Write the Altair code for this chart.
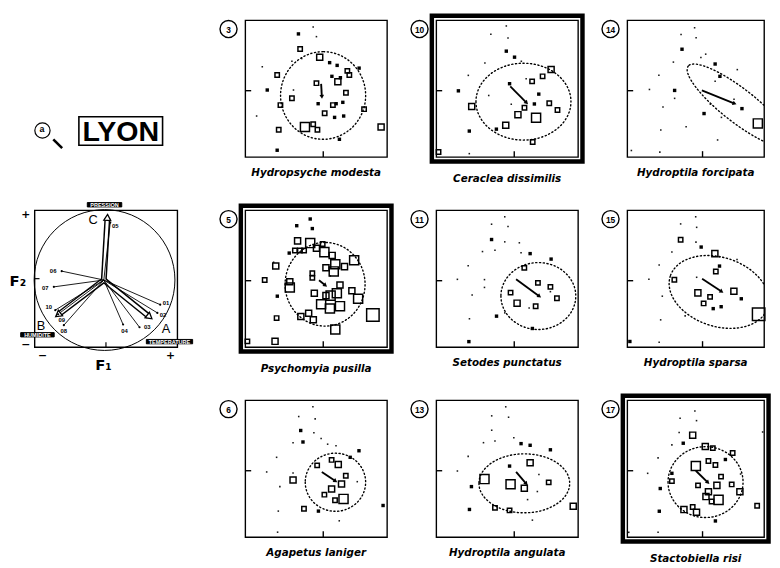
import math
import altair as alt
import pandas as pd

FONT = "Liberation Sans"
TFONT = "DejaVu Sans"
W, W3, H = 144, 139, 139
SQ = {"s": 20, "m": 38, "l": 85, "x": 160}
ORIGIN = (55, 48.5)

# ---------------- species panels: (x%, y%, size class) -----------------
P3_OPEN = [(22.5, 60, "s"), (38.7, 79, "s"), (52.5, 73, "m"), (72, 63, "s"), (73.4, 60, "s"),
           (65.3, 55, "m"), (50.2, 54, "s"), (71, 47, "s"), (32.9, 43, "s"), (24.8, 38, "s"),
           (61.8, 38, "s"), (83.8, 35, "s"), (56, 32, "s"), (42.1, 22, "l"), (47.9, 24, "s"),
           (50.9, 20, "s"), (23.6, 20, "s"), (95.8, 22, "m")]
P3_FILLED = [(37.5, 90), (59.5, 69), (64.8, 67), (80.3, 65), (61.1, 59), (67.1, 58), (15.5, 49),
             (51.4, 39), (64.1, 39), (68.8, 40), (63, 29), (69.4, 30), (66.4, 13), (22.5, 5)]
P3_TINY = [(47.9, 95), (50.2, 88), (39.8, 72), (32.9, 70), (34, 49), (12, 66), (8, 30)]
P3_ARROW = (53.5, 53.5, 54, 44.5)
P3_ELL = (54.9, 45, 30, 30.9, 0)

P10_OPEN = [(25, 37, "m"), (81, 64, "m"), (75, 59, "s"), (67.6, 55.3, "s"), (62.2, 36, "s"),
            (57.6, 31, "m"), (70.4, 28.7, "l"), (49, 23.3, "m"), (79.7, 39.3, "s"),
            (85.5, 34.4, "s"), (68, 11, "s"), (1.6, 3.7, "s")]
P10_FILLED = [(49.4, 77.4), (55.2, 73), (15.6, 48.4), (72.3, 46), (69.2, 38.8), (23.3, 19),
              (42.4, 20.4), (51.7, 53.6)]
P10_TINY = [(38.5, 89.7), (49.4, 95.8), (50.6, 87), (22.6, 59.7), (34.3, 68.8), (63.4, 57.2),
            (52.9, 38.6), (23.3, 2.5), (37, 45), (60, 70)]
P10_ARROW = (52.2, 51.6, 63.4, 40)
P10_ELL = (61.5, 40.5, 33.5, 27.1, 0)

P14_OPEN = [(95.4, 24.6, "l")]
P14_FILLED = [(40, 78.8), (64.2, 68), (83.8, 35.4), (34.6, 48.7), (67.7, 59), (56.1, 31.8)]
P14_TINY = [(49.2, 94.5), (50.3, 87.2), (39.3, 89.6), (53.8, 72.8), (57.3, 75.2), (33.7, 69.4),
            (23.1, 59.8), (16.2, 49.4), (26.1, 36.6), (34.6, 42.9), (43, 22.2), (24.5, 19.8),
            (66, 12.5), (80.4, 63.9), (3, 4.8), (23.8, 3.6), (64.2, 55.4), (68.8, 29),
            (60.7, 38.6), (78, 42.2)]
P14_ARROW = (54.5, 48.7, 78, 39.3)
P14_ELL = (81.4, 37.6, 46.8, 12.2, 38)

P5_OPEN = [(36.9, 77.6, "m"), (35, 70.6, "s"), (38.5, 70.6, "s"), (41.5, 70.6, "s"),
           (45.8, 76, "l"), (54.6, 75.3, "s"), (50.2, 72.2, "m"), (55.8, 69.4, "l"),
           (61.3, 67, "m"), (21.5, 59.3, "m"), (13.7, 49, "s"), (31.4, 47.8, "m"),
           (31.4, 43.5, "l"), (47.3, 54, "s"), (47.3, 50.6, "s"), (56.9, 58, "m"),
           (63.5, 60.5, "l"), (62.4, 55.3, "l"), (70, 58.8, "m"), (76.8, 63.5, "l"),
           (66.8, 45.4, "m"), (64.6, 39.3, "l"), (60.2, 37.6, "l"), (48.7, 39.3, "m"),
           (56.9, 37.6, "m"), (75.2, 41.2, "m"), (79.6, 35.3, "l"), (53.5, 31.3, "l"),
           (59.7, 28.2, "l"), (66.8, 29.9, "l"), (39.2, 22.4, "m"), (44.7, 24.7, "m"),
           (48, 20, "m"), (63.5, 12.9, "l"), (90, 23.5, "x"), (22.1, 21.2, "s"),
           (21, 4.2, "m"), (1.5, 4.2, "s")]
P5_FILLED = [(45.8, 93.6), (36.3, 88.7), (47.3, 86.6), (22.6, 37.2), (31, 68.7)]
P5_TINY = [(20, 62), (60, 52)]
P5_ARROW = (52, 48.9, 56.2, 45.4)
P5_ELL = (56.3, 45.9, 28.2, 29.5, 0)

P11_OPEN = [(62.1, 57.9, "s"), (71.7, 46.9, "s"), (52.4, 39.8, "s"), (57, 32.1, "m"),
            (70.1, 29.8, "s"), (85.1, 35.7, "s"), (80.5, 44, "s")]
P11_FILLED = [(39, 78.6), (66.2, 68.3), (81, 64.3), (42.5, 22.6), (67.8, 13.6), (23, 4)]
P11_TINY = [(48.3, 95.2), (39, 89.8), (50.6, 88.1), (58.6, 76.2), (48.3, 76.9), (32.6, 69.8),
            (41.4, 70.7), (59.8, 69), (22.5, 59.5), (14.9, 49.5), (34, 49.3), (25.3, 38.1),
            (34, 43.6), (23.4, 20.7), (48.3, 25), (65.5, 28.6), (80.5, 40.5)]
P11_ARROW = (56.3, 49.5, 72.4, 37.4)
P11_ELL = (72, 37.3, 26.4, 23.6, 0)

P15_OPEN = [(39, 78.4, "s"), (64, 68.3, "m"), (64.7, 55.2, "s"), (34.4, 49.2, "s"),
            (51.6, 39.6, "m"), (60.5, 36.7, "s"), (55.8, 31.9, "s"), (77.9, 40.8, "m"),
            (96, 24, "x")]
P15_FILLED = [(54, 73.1), (67.4, 59.2), (83.3, 35.3), (68.6, 29.5), (62.8, 28.1), (1.9, 4.1)]
P15_TINY = [(50, 95.2), (39, 90), (50.7, 87.5), (50.2, 76.7), (32.6, 69.5), (23.3, 60),
            (15.8, 49.6), (25.6, 37.2), (24.4, 19.9), (42.3, 22.8), (23.3, 3.6), (80.2, 64),
            (50.7, 51), (67.4, 66)]
P15_ARROW = (54.7, 49.9, 68.6, 40.8)
P15_ELL = (67, 40.3, 37.4, 25.2, 18)

P6_OPEN = [(60.9, 56.4, "s"), (65.6, 53.1, "m"), (50.7, 52.4, "s"), (70.9, 44.8, "s"),
           (67.9, 38.8, "m"), (60.9, 35.2, "m"), (55.8, 31, "s"), (69.3, 27.9, "l"),
           (63.3, 26.9, "s"), (33.7, 41.7, "m"), (41.4, 20.7, "s")]
P6_FILLED = [(39.1, 77.9), (40.7, 69.5), (80.2, 63.1), (74, 58.3), (51.6, 19), (97.2, 23.1)]
P6_TINY = [(47.7, 95.2), (37.7, 88.1), (49.3, 86.4), (48.4, 76.2), (53.5, 72.1), (33.7, 69),
           (58.1, 67.9), (64, 66.7), (22.1, 58.3), (15.1, 47.6), (33.7, 46.9), (24.4, 36.9),
           (23.3, 19), (66.3, 11.9), (22.8, 3.6), (79, 40.5)]
P6_ARROW = (54, 47.6, 63.3, 41.2)
P6_ELL = (63.6, 40.1, 21.3, 20.5, 0)

P13_OPEN = [(66.2, 54.3, "m"), (34, 42.4, "l"), (52.4, 38.6, "l"), (62.1, 35.7, "m"),
            (79.3, 40, "s"), (41.4, 21.4, "s"), (51.7, 19.5, "s"), (96.6, 22.6, "m")]
P13_FILLED = [(59.8, 68.3), (66.2, 67.1), (80.5, 63.8), (51.7, 51.9), (24.8, 36.9), (23.4, 20.2)]
P13_TINY = [(49, 95.2), (39.1, 88.6), (51, 87.6), (54.7, 72.6), (39.1, 78.1), (33.3, 69),
            (41.4, 70.2), (22.5, 59), (14.9, 48.3), (72.4, 45.7), (71.3, 33.3), (64.4, 27.4),
            (67.8, 12.4)]
P13_ARROW = (56.3, 47.6, 63.2, 39.3)
P13_ELL = (62.1, 39.3, 32, 20.8, 0)

P17_OPEN = [(47.8, 74.5, "m"), (57, 66.2, "m"), (62.5, 65, "s"), (77, 61.5, "s"),
            (59.3, 55.6, "s"), (64.4, 52.7, "s"), (50.1, 52, "l"), (68.5, 44.2, "s"),
            (51.7, 37.8, "s"), (65.5, 37.8, "m"), (76.3, 38.5, "s"), (82.3, 33.1, "m"),
            (59.3, 33.1, "m"), (57.5, 29.6, "m"), (66.7, 27.2, "l"), (61.6, 26, "s"),
            (41.4, 20.1, "m"), (47.8, 22, "s"), (50.6, 18.2, "m"), (32.6, 40.9, "s"),
            (94.9, 22.9, "s")]
P17_FILLED = [(40.9, 68.6), (71.7, 56.7), (32.6, 46.6), (24.1, 35.5), (23.4, 18.9), (64.4, 11.8)]
P17_TINY = [(49.4, 92.2), (38.6, 86.8), (50.6, 85.1), (37.9, 76.4), (32.6, 67.4), (22.5, 57.9),
            (14.9, 46.6), (1.1, 3.5), (22.5, 3.5), (98.9, 76.8), (82.8, 46.1)]
P17_ARROW = (50.1, 48.5, 58.6, 40.2)
P17_ELL = (57.2, 40.2, 27.4, 25.9, 0)

# ---------------- biplot (left) -----------------
BI_HUB = (-0.03, -0.02)
BI_NAMES = ["01", "02", "03", "04", "05", "06", "07", "08", "09", "10"]
BI_PX = [0.76, 0.72, 0.47, 0.24, 0.06, -0.62, -0.73, -0.59, -0.67, -0.71]
BI_PY = [-0.38, -0.50, -0.71, -0.67, 0.82, 0.11, -0.12, -0.68, -0.52, -0.46]
BI_LX = [0.84, 0.80, 0.58, 0.26, 0.13, -0.74, -0.85, -0.59, -0.62, -0.80]
BI_LY = [-0.35, -0.53, -0.71, -0.76, 0.77, 0.11, -0.13, -0.77, -0.60, -0.41]
BI_POLES = ["A", "B", "C"]
BI_TIPX = [0.60, -0.66, 0.02]
BI_TIPY = [-0.55, -0.52, 0.88]
BI_LETX = [0.84, -0.91, -0.18]
BI_LETY = [-0.74, -0.69, 0.85]
BI_VARS = ["PRESSION", "HUMIDITE", "TEMPERATURE"]
BI_VARX = [-0.02, -0.96, 0.89]
BI_VARY = [1.08, -0.82, -0.92]
BI_VARW = [35, 34, 47]
TITLE_TXT = ["LYON"]
PANEL_TAG = ["a"]


def ell_path(a, b):
    if a >= b:
        r = b / a
        return f"M -1 0 A 1 {r:.3f} 0 1 0 1 0 A 1 {r:.3f} 0 1 0 -1 0 Z"
    r = a / b
    return f"M 0 -1 A {r:.3f} 1 0 1 0 0 1 A {r:.3f} 1 0 1 0 0 -1 Z"


def panel(num, name, w, thick, open_pts, filled, tiny, arrow, ell):
    xs = alt.Scale(domain=[0, 100], nice=False, zero=False)
    ys = alt.Scale(domain=[0, 100], nice=False, zero=False)

    def X(f):
        return alt.X(f"{f}:Q", scale=xs, axis=None)

    def Y(f):
        return alt.Y(f"{f}:Q", scale=ys, axis=None)

    layers = []
    cx, cy, a, b, ang = ell
    df_e = pd.DataFrame({"x": [cx], "y": [cy], "shp": [ell_path(a, b)],
                         "sz": [(2 * max(a, b) * w / 100) ** 2], "ang": [ang]})
    layers.append(alt.Chart(df_e).mark_point(
        filled=False, color="black", strokeWidth=1.4, strokeDash=[1.2, 2.6],
        strokeCap="round", opacity=1, clip=True).encode(
        x=X("x"), y=Y("y"), shape=alt.Shape("shp:N", scale=None),
        size=alt.Size("sz:Q", scale=None), angle=alt.Angle("ang:Q", scale=None)))

    df_o = pd.DataFrame({"x": [ORIGIN[0]], "y": [ORIGIN[1]]})
    layers.append(alt.Chart(df_o).mark_rule(color="black", strokeWidth=1.4).encode(
        x=X("x"), y=alt.value(H), y2=alt.value(H - 6)))
    layers.append(alt.Chart(df_o).mark_rule(color="black", strokeWidth=1.4).encode(
        y=Y("y"), x=alt.value(0), x2=alt.value(6)))

    df_t = pd.DataFrame({"x": [p[0] for p in tiny], "y": [p[1] for p in tiny]})
    layers.append(alt.Chart(df_t).mark_square(color="black", size=2.5, opacity=0.9).encode(
        x=X("x"), y=Y("y")))

    df_f = pd.DataFrame({"x": [p[0] for p in filled], "y": [p[1] for p in filled]})
    layers.append(alt.Chart(df_f).mark_square(color="black", size=12, opacity=1).encode(
        x=X("x"), y=Y("y")))

    df_s = pd.DataFrame({"x": [p[0] for p in open_pts], "y": [p[1] for p in open_pts],
                         "sz": [SQ[p[2]] for p in open_pts]})
    layers.append(alt.Chart(df_s).mark_point(
        shape="square", filled=False, color="black", strokeWidth=1.5, opacity=1).encode(
        x=X("x"), y=Y("y"), size=alt.Size("sz:Q", scale=None)))

    x1, y1, x2, y2 = arrow
    hang = math.degrees(math.atan2((x2 - x1) * w / 100, (y2 - y1) * H / 100)) % 360
    df_a = pd.DataFrame({"x": [x1], "y": [y1], "x2": [x2], "y2": [y2], "ang": [hang]})
    layers.append(alt.Chart(df_a).mark_rule(color="black", strokeWidth=1.9).encode(
        x=X("x"), y=Y("y"), x2=alt.X2("x2"), y2=alt.Y2("y2")))
    layers.append(alt.Chart(df_a).mark_point(
        shape="triangle", filled=True, color="black", size=22, opacity=1).encode(
        x=X("x2"), y=Y("y2"), angle=alt.Angle("ang:Q", scale=None)))

    if thick:
        layers.append(alt.Chart(df_o).mark_rect(
            filled=False, color="black", strokeWidth=4.5).encode(
            x=alt.value(-4.5), x2=alt.value(w + 4.5), y=alt.value(-4.5), y2=alt.value(H + 4.5)))

    df_n = pd.DataFrame({"num": [num]})
    layers.append(alt.Chart(df_n).mark_point(
        shape="circle", filled=True, fill="white", stroke="black", strokeWidth=1.4,
        size=300, opacity=1).encode(x=alt.value(-17), y=alt.value(9)))
    layers.append(alt.Chart(df_n).mark_text(
        font=FONT, fontSize=8.5, fontWeight="bold", color="black", baseline="middle").encode(
        x=alt.value(-17), y=alt.value(9.5), text="num:N"))

    return alt.layer(*layers).properties(
        width=w, height=H,
        title=alt.TitleParams(name, orient="bottom", offset=11, fontSize=10.5,
                              fontStyle="italic", fontWeight="bold", font=TFONT,
                              anchor="middle", color="black"))


p3 = panel("3", "Hydropsyche modesta", W, False, P3_OPEN, P3_FILLED, P3_TINY, P3_ARROW, P3_ELL)
p10 = panel("10", "Ceraclea dissimilis", W, True, P10_OPEN, P10_FILLED, P10_TINY, P10_ARROW, P10_ELL)
p14 = panel("14", "Hydroptila forcipata", W3, False, P14_OPEN, P14_FILLED, P14_TINY, P14_ARROW, P14_ELL)
p5 = panel("5", "Psychomyia pusilla", W, True, P5_OPEN, P5_FILLED, P5_TINY, P5_ARROW, P5_ELL)
p11 = panel("11", "Setodes punctatus", W, False, P11_OPEN, P11_FILLED, P11_TINY, P11_ARROW, P11_ELL)
p15 = panel("15", "Hydroptila sparsa", W3, False, P15_OPEN, P15_FILLED, P15_TINY, P15_ARROW, P15_ELL)
p6 = panel("6", "Agapetus laniger", W, False, P6_OPEN, P6_FILLED, P6_TINY, P6_ARROW, P6_ELL)
p13 = panel("13", "Hydroptila angulata", W, False, P13_OPEN, P13_FILLED, P13_TINY, P13_ARROW, P13_ELL)
p17 = panel("17", "Stactobiella risi", W3, True, P17_OPEN, P17_FILLED, P17_TINY, P17_ARROW, P17_ELL)

NOFRAME = alt.ViewBackground(stroke="transparent")

# ---------------- header -----------------
df_h = pd.DataFrame({"t": TITLE_TXT, "tag": PANEL_TAG})
header = alt.layer(
    alt.Chart(df_h).mark_rect(filled=False, color="black", strokeWidth=1.6).encode(
        x=alt.value(45), x2=alt.value(130), y=alt.value(98), y2=alt.value(127)),
    alt.Chart(df_h).mark_text(font=FONT, fontSize=29, fontWeight="bold", color="black",
                              baseline="middle").encode(
        x=alt.value(87.5), y=alt.value(114), text="t:N"),
    alt.Chart(df_h).mark_point(shape="circle", filled=False, color="black", strokeWidth=1.2,
                               size=240, opacity=1).encode(x=alt.value(8), y=alt.value(112)),
    alt.Chart(df_h).mark_text(font=FONT, fontSize=9, fontWeight="bold", color="black",
                              baseline="middle").encode(
        x=alt.value(7.5), y=alt.value(111), text="tag:N"),
    alt.Chart(df_h).mark_rule(color="black", strokeWidth=2.6).encode(
        x=alt.value(19), x2=alt.value(28), y=alt.value(121), y2=alt.value(130)),
).properties(width=145, height=H, view=NOFRAME)

# ---------------- biplot -----------------
BW, BH = 145, H
bx = alt.Scale(domain=[-1, 1], nice=False, zero=False)
by = alt.Scale(domain=[-1, 1], nice=False, zero=False)


def BX(f):
    return alt.X(f"{f}:Q", scale=bx, axis=None)


def BY(f):
    return alt.Y(f"{f}:Q", scale=by, axis=None)


df_c = pd.DataFrame({"x": [-0.02], "y": [-0.02]})
df_pts = pd.DataFrame({"n": BI_NAMES, "px": BI_PX, "py": BI_PY, "lx": BI_LX, "ly": BI_LY,
                       "hx": [BI_HUB[0]] * len(BI_NAMES), "hy": [BI_HUB[1]] * len(BI_NAMES)})
tip_ang = [math.degrees(math.atan2((tx - BI_HUB[0]) * BW / 2, (ty - BI_HUB[1]) * BH / 2)) % 360
           for tx, ty in zip(BI_TIPX, BI_TIPY)]
df_tips = pd.DataFrame({"n": BI_POLES, "tx": BI_TIPX, "ty": BI_TIPY, "lx": BI_LETX,
                        "ly": BI_LETY, "ang": tip_ang,
                        "hx": [BI_HUB[0]] * 3, "hy": [BI_HUB[1]] * 3})
df_vars = pd.DataFrame({"v": BI_VARS, "x": BI_VARX, "y": BI_VARY,
                        "shp": [f"M -1 -{4.4 / w:.3f} H 1 V {4.4 / w:.3f} H -1 Z" for w in BI_VARW],
                        "sz": [w * w for w in BI_VARW]})
df_zero = pd.DataFrame({"x": [0.0], "y": [0.0]})


def sign(txt, x, y, size=11):
    return alt.Chart(df_zero).mark_text(font="DejaVu Sans", fontSize=size, fontWeight="bold",
                                        color="black", baseline="middle").encode(
        x=alt.value(x), y=alt.value(y), text=alt.value(txt))


biplot = alt.layer(
    alt.Chart(df_c).mark_point(shape="circle", filled=False, color="black", strokeWidth=1,
                               size=143 * 143, opacity=1).encode(x=BX("x"), y=BY("y")),
    alt.Chart(df_zero).mark_rule(color="black", strokeWidth=1.2).encode(
        x=BX("x"), y=alt.value(BH), y2=alt.value(BH - 5)),
    alt.Chart(df_zero).mark_rule(color="black", strokeWidth=1.2).encode(
        y=BY("y"), x=alt.value(0), x2=alt.value(5)),
    alt.Chart(df_tips).mark_rule(color="black", strokeWidth=6).encode(
        x=BX("hx"), y=BY("hy"), x2=alt.X2("tx"), y2=alt.Y2("ty")),
    alt.Chart(df_tips).mark_rule(color="white", strokeWidth=3).encode(
        x=BX("hx"), y=BY("hy"), x2=alt.X2("tx"), y2=alt.Y2("ty")),
    alt.Chart(df_pts).mark_rule(color="black", strokeWidth=0.9).encode(
        x=BX("hx"), y=BY("hy"), x2=alt.X2("px"), y2=alt.Y2("py")),
    alt.Chart(df_tips).mark_point(shape="triangle", filled=True, fill="white", stroke="black",
                                  strokeWidth=1.3, size=50, opacity=1).encode(
        x=BX("tx"), y=BY("ty"), angle=alt.Angle("ang:Q", scale=None)),
    alt.Chart(df_pts).mark_circle(color="black", size=5, opacity=1).encode(x=BX("px"), y=BY("py")),
    alt.Chart(df_pts).mark_text(font=FONT, fontSize=6, fontWeight="bold", color="black",
                                baseline="middle").encode(x=BX("lx"), y=BY("ly"), text="n:N"),
    alt.Chart(df_tips).mark_text(font=FONT, fontSize=13, color="black",
                                 baseline="middle").encode(x=BX("lx"), y=BY("ly"), text="n:N"),
    alt.Chart(df_vars).mark_point(filled=True, fill="black", stroke="black", strokeWidth=1,
                                  opacity=1).encode(
        x=BX("x"), y=BY("y"), shape=alt.Shape("shp:N", scale=None),
        size=alt.Size("sz:Q", scale=None)),
    alt.Chart(df_vars).mark_text(font=FONT, fontSize=5.6, fontWeight="bold", color="white",
                                 baseline="middle").encode(x=BX("x"), y=BY("y"), text="v:N"),
    sign("+", -9, 5), sign("−", -9, 137), sign("−", 8, 148), sign("+", 138, 148),
    sign("F₁", 70, 157, 15), sign("F₂", -17, 72, 15),
).properties(width=BW, height=BH)


def spacer(w):
    return alt.Chart(df_zero).mark_point(opacity=0).encode(
        x=alt.value(0), y=alt.value(0)).properties(width=w, height=H, view=NOFRAME)


cells = [header, spacer(69), p3, spacer(49.5), p10, spacer(49.5), p14,
         biplot, spacer(69), p5, spacer(49.5), p11, spacer(49.5), p15,
         spacer(145), spacer(69), p6, spacer(49.5), p13, spacer(49.5), p17]

chart = alt.concat(*cells, columns=7, spacing={"row": 54, "column": 0},
                   bounds="flush").configure_view(
    stroke="black", strokeWidth=1.4).properties(padding=0)

chart.save("out.html", embed_options={"renderer": "svg", "actions": False})
